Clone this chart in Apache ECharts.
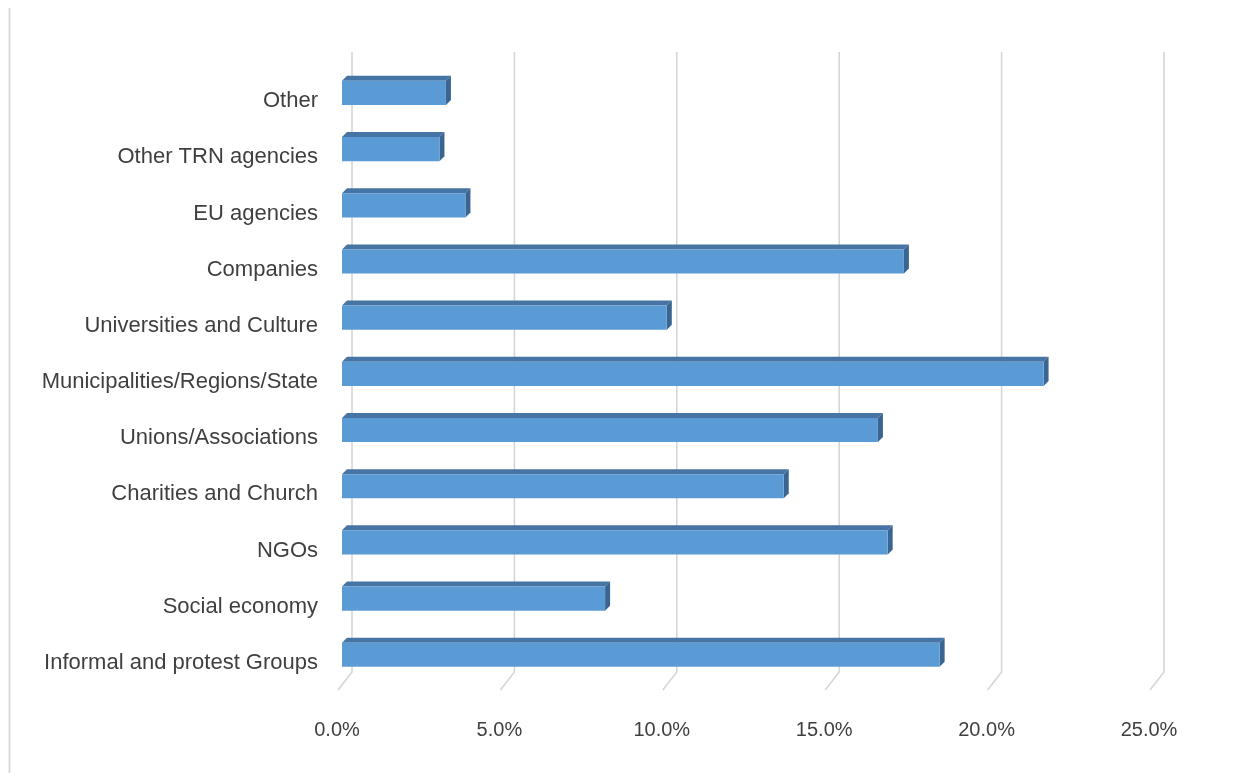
<!DOCTYPE html>
<html>
<head>
<meta charset="utf-8">
<script src="https://cdn.jsdelivr.net/npm/echarts@6/dist/echarts.min.js"></script>
<style>
  html, body { margin: 0; padding: 0; background: #ffffff; }
  #chart { width: 1234px; height: 773px; }
</style>
</head>
<body>
<div id="chart"></div>
<script>
// Categories, top to bottom
const categories = [
  'Other',
  'Other TRN agencies',
  'EU agencies',
  'Companies',
  'Universities and Culture',
  'Municipalities/Regions/State',
  'Unions/Associations',
  'Charities and Church',
  'NGOs',
  'Social economy',
  'Informal and protest Groups'
];
// Share of each type of actor, in percent
const shares = [3.2, 3.0, 3.8, 17.3, 10.0, 21.6, 16.5, 13.6, 16.8, 8.1, 18.4];
// Value axis ticks, in percent
const xTicks = [0, 5, 10, 15, 20, 25];

const FONT = '"Liberation Sans", Arial, sans-serif';
const TEXT = '#3f3f3f';

// Extruded bar: front face, darker top face and darker right face
function drawBar(params, api) {
  const idx = api.value(1);
  const base = api.coord([0, idx]);
  const tip = api.coord([api.value(0), idx]);
  const band = api.size([0, 1])[1];
  const h = band * 0.43;
  const d = 5;
  const yc = base[1] - band * 0.145;
  const x0 = base[0], x1 = tip[0];
  const yt = yc - h / 2, yb = yc + h / 2;
  return {
    type: 'group',
    children: [
      { type: 'polygon', shape: { points: [[x0, yt], [x0 + d, yt - d], [x1 + d, yt - d], [x1, yt]] },
        style: { fill: '#4675a5' } },
      { type: 'polygon', shape: { points: [[x1, yt], [x1 + d, yt - d], [x1 + d, yb - d], [x1, yb]] },
        style: { fill: '#3a6590' } },
      { type: 'rect', shape: { x: x0, y: yt, width: x1 - x0, height: h },
        style: { fill: '#5b9bd5' } }
    ]
  };
}

// Gridline on the back wall, bending forward across the floor
function drawGridLine(params, api) {
  const cs = params.coordSys;
  const x = api.coord([api.value(0), 0])[0];
  const top = cs.y, bot = cs.y + cs.height;
  return {
    type: 'polyline',
    shape: { points: [[x + 10, top - 21], [x + 10, bot - 19], [x - 4, bot - 1]] },
    style: { stroke: '#d6d6d6', lineWidth: 1.6, fill: null }
  };
}

const chart = echarts.init(document.getElementById('chart'), null, { renderer: 'canvas' });
chart.setOption({
  animation: false,
  backgroundColor: '#ffffff',
  grid: { left: 342, right: 80, top: 73, bottom: 82 },
  xAxis: {
    type: 'value',
    min: 0,
    max: 25,
    interval: 5,
    axisLine: { show: false },
    axisTick: { show: false },
    splitLine: { show: false },
    axisLabel: {
      margin: 29,
      color: TEXT,
      fontFamily: FONT,
      fontSize: 20,
      padding: [0, 10, 0, 0],
      formatter: v => v.toFixed(1) + '%'
    }
  },
  yAxis: {
    type: 'category',
    data: categories,
    inverse: true,
    axisLine: { show: false },
    axisTick: { show: false },
    splitLine: { show: false },
    axisLabel: {
      margin: 24,
      color: TEXT,
      fontFamily: FONT,
      fontSize: 22
    }
  },
  graphic: [{
    type: 'line',
    shape: { x1: 9.5, y1: 8, x2: 9.5, y2: 773 },
    style: { stroke: '#d9d9d9', lineWidth: 2 }
  }],
  series: [
    {
      type: 'custom',
      z: 1,
      silent: true,
      renderItem: drawGridLine,
      encode: { x: 0, y: 1 },
      data: xTicks.map(v => [v, 0])
    },
    {
      type: 'custom',
      z: 2,
      renderItem: drawBar,
      encode: { x: 0, y: 1 },
      data: shares.map((v, i) => [v, i])
    }
  ]
});
</script>
</body>
</html>
